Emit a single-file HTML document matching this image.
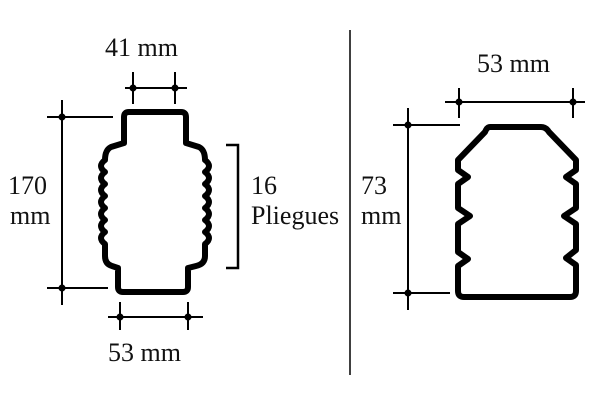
<!DOCTYPE html>
<html><head><meta charset="utf-8"><style>
html,body{margin:0;padding:0;background:#fff;width:600px;height:400px;overflow:hidden}
svg{display:block}
text{font-family:"Liberation Serif",serif;font-size:26px;fill:#111}
</style></head><body>
<svg width="600" height="400" viewBox="0 0 600 400">
<g fill="none" stroke="#000" stroke-width="2">
<line x1="62" y1="100" x2="62" y2="305"/>
<line x1="47" y1="117" x2="113" y2="117"/>
<line x1="47" y1="288" x2="108" y2="288"/>
<line x1="125" y1="88" x2="187" y2="88"/>
<line x1="133" y1="72" x2="133" y2="104"/>
<line x1="175" y1="72" x2="175" y2="104"/>
<line x1="108" y1="317" x2="203" y2="317"/>
<line x1="120" y1="302" x2="120" y2="330"/>
<line x1="188" y1="302" x2="188" y2="330"/>
<polyline points="226,145 238,145 238,268 226,268" stroke-width="2.5"/>
<line x1="350" y1="30" x2="350" y2="375" stroke-width="1.5"/>
<line x1="445" y1="102" x2="585" y2="102"/>
<line x1="459" y1="88" x2="459" y2="118"/>
<line x1="573" y1="88" x2="573" y2="118"/>
<line x1="408" y1="108" x2="408" y2="310"/>
<line x1="393" y1="125" x2="460" y2="125"/>
<line x1="393" y1="293" x2="450" y2="293"/>
</g>
<g fill="#000">
<circle cx="62" cy="117" r="3.5"/><circle cx="62" cy="288" r="3.5"/>
<circle cx="133" cy="88" r="3.5"/><circle cx="175" cy="88" r="3.5"/>
<circle cx="120" cy="317" r="3.5"/><circle cx="188" cy="317" r="3.5"/>
<circle cx="459" cy="102" r="3.5"/><circle cx="573" cy="102" r="3.5"/>
<circle cx="408" cy="125" r="3.5"/><circle cx="408" cy="293" r="3.5"/>
</g>
<g fill="none" stroke="#000" stroke-width="6" stroke-linejoin="round">
<path d="M129,112 L181,112 Q186,112 186,117 L186,143 L199,147 Q205,150 205,160
 q8,6 0,12 q8,6 0,12 q8,6 0,12 q8,6 0,12 q8,6 0,12 q8,6 0,12 q8,6 0,12 L205,256 Q205,264 196,266 L188,268 L188,287 Q188,292 183,292 L123,292 Q118,292 118,287 L118,268 L112,266 Q105,264 105,256
 L105,244 q-8,-6 0,-12 q-8,-6 0,-12 q-8,-6 0,-12 q-8,-6 0,-12 q-8,-6 0,-12 q-8,-6 0,-12 q-8,-6 0,-12 L105,160 Q105,150 111,147 L124,143 L124,117 Q124,112 129,112 Z"/>
<path d="M490,127 L541,127 Q546,127 549,132 L576,160 L576,170 L566,177 L576,184 L576,208 L564,216 L576,224 L576,250 L566,258 L576,265 L576,291 Q576,297 570,297 L464,297 Q458,297 458,291 L458,266 L468,259 L458,252 L458,224 L470,216 L458,208 L458,184 L468,177 L458,170 L458,160 L485,132 Q487,127 490,127 Z"/>
</g>
<text x="105" y="56">41 mm</text>
<text x="8" y="194">170</text>
<text x="10" y="224">mm</text>
<text x="251" y="194">16</text>
<text x="251" y="224">Pliegues</text>
<text x="108" y="361">53 mm</text>
<text x="477" y="72">53 mm</text>
<text x="361" y="194">73</text>
<text x="361" y="224">mm</text>
</svg>
</body></html>
